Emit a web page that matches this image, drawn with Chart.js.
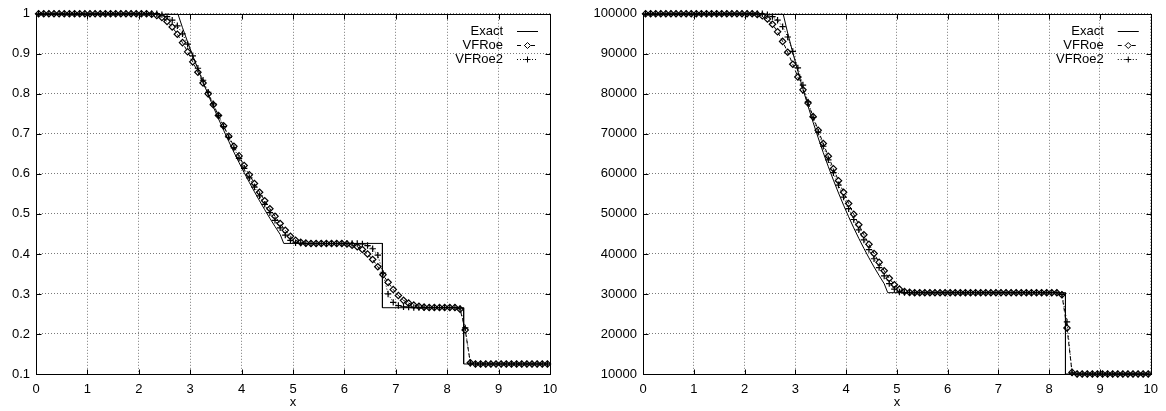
<!DOCTYPE html>
<html>
<head>
<meta charset="utf-8">
<script src="https://cdn.jsdelivr.net/npm/chart.js@4/dist/chart.umd.min.js"></script>
<style>
  body { margin: 0; background: #fff; }
  #wrap { position: relative; width: 1166px; height: 411px; }
  canvas { position: absolute; top: 0; }
  #rho { left: 0; }
  #pres { left: 583px; }
</style>
</head>
<body>
<div id="wrap">
  <canvas id="rho" width="583" height="411"></canvas>
  <canvas id="pres" width="583" height="411"></canvas>
</div>
<script>
// cell centres of the numerical schemes (100 cells on [0,10])
const cellX = [
  0.05, 0.15, 0.25, 0.35, 0.45, 0.55, 0.65, 0.75, 0.85, 0.95,
  1.05, 1.15, 1.25, 1.35, 1.45, 1.55, 1.65, 1.75, 1.85, 1.95,
  2.05, 2.15, 2.25, 2.35, 2.45, 2.55, 2.65, 2.75, 2.85, 2.95,
  3.05, 3.15, 3.25, 3.35, 3.45, 3.55, 3.65, 3.75, 3.85, 3.95,
  4.05, 4.15, 4.25, 4.35, 4.45, 4.55, 4.65, 4.75, 4.85, 4.95,
  5.05, 5.15, 5.25, 5.35, 5.45, 5.55, 5.65, 5.75, 5.85, 5.95,
  6.05, 6.15, 6.25, 6.35, 6.45, 6.55, 6.65, 6.75, 6.85, 6.95,
  7.05, 7.15, 7.25, 7.35, 7.45, 7.55, 7.65, 7.75, 7.85, 7.95,
  8.05, 8.15, 8.25, 8.35, 8.45, 8.55, 8.65, 8.75, 8.85, 8.95,
  9.05, 9.15, 9.25, 9.35, 9.45, 9.55, 9.65, 9.75, 9.85, 9.95
];

// exact solution breakpoints
const exactX = [0, 2.76, 2.85, 2.95, 3.05, 3.15, 3.25, 3.35, 3.45, 3.55, 3.65, 3.75, 3.85, 3.95,
  4.05, 4.15, 4.25, 4.35, 4.45, 4.55, 4.65, 4.75, 4.82, 6.74, 6.74, 8.32, 8.32, 10];
const exactRho = [1, 1, 0.9653, 0.9297, 0.8952, 0.8618, 0.8293, 0.7978, 0.7673, 0.7378, 0.7091, 0.6813,
  0.6544, 0.6284, 0.6033, 0.5789, 0.5553, 0.5325, 0.5105, 0.4891, 0.4686, 0.4488, 0.4263, 0.4263,
  0.2656, 0.2656, 0.125, 0.125];
const exactP = [100000, 100000, 95170, 90290, 85640, 81200, 76950, 72890, 69020, 65320, 61800, 58440,
  55240, 52190, 49290, 46520, 43890, 41390, 39010, 36740, 34600, 32560, 30313, 30313,
  30313, 30313, 10000, 10000];

const rhoVFRoe = [
  1, 1, 1, 1, 1, 1, 1, 1, 1, 1,
  1, 1, 1, 1, 1, 1, 1, 1, 1, 1,
  1, 1, 0.999, 0.996, 0.991, 0.981, 0.967, 0.949, 0.928, 0.905,
  0.880, 0.854, 0.827, 0.800, 0.773, 0.746, 0.720, 0.694, 0.669, 0.645,
  0.621, 0.598, 0.576, 0.554, 0.533, 0.513, 0.494, 0.476, 0.459, 0.444,
  0.434, 0.429, 0.427, 0.426, 0.426, 0.426, 0.426, 0.426, 0.426, 0.426,
  0.425, 0.422, 0.418, 0.411, 0.400, 0.386, 0.368, 0.348, 0.329, 0.311,
  0.296, 0.284, 0.277, 0.272, 0.269, 0.267, 0.266, 0.266, 0.266, 0.266,
  0.266, 0.266, 0.262, 0.210, 0.128, 0.125, 0.125, 0.125, 0.125, 0.125,
  0.125, 0.125, 0.125, 0.125, 0.125, 0.125, 0.125, 0.125, 0.125, 0.125
];
const rhoVFRoe2 = [
  1, 1, 1, 1, 1, 1, 1, 1, 1, 1,
  1, 1, 1, 1, 1, 1, 1, 1, 1, 1,
  1, 1, 1, 1, 0.998, 0.993, 0.984, 0.970, 0.950, 0.924,
  0.895, 0.864, 0.834, 0.804, 0.775, 0.746, 0.718, 0.691, 0.665, 0.639,
  0.614, 0.590, 0.567, 0.545, 0.524, 0.503, 0.484, 0.465, 0.447, 0.434,
  0.428, 0.427, 0.426, 0.426, 0.426, 0.426, 0.426, 0.426, 0.426, 0.426,
  0.426, 0.426, 0.426, 0.425, 0.421, 0.413, 0.397, 0.352, 0.300, 0.279,
  0.271, 0.268, 0.267, 0.266, 0.266, 0.266, 0.266, 0.266, 0.266, 0.266,
  0.266, 0.266, 0.263, 0.215, 0.127, 0.125, 0.125, 0.125, 0.125, 0.125,
  0.125, 0.125, 0.125, 0.125, 0.125, 0.125, 0.125, 0.125, 0.125, 0.125
];
const pVFRoe = [
  100000, 100000, 100000, 100000, 100000, 100000, 100000, 100000, 100000, 100000,
  100000, 100000, 100000, 100000, 100000, 100000, 100000, 100000, 100000, 100000,
  100000, 100000, 99850, 99500, 98700, 97400, 95500, 93100, 90400, 87400,
  84200, 81000, 77700, 74300, 70900, 67600, 64400, 61300, 58300, 55400,
  52600, 49900, 47300, 44800, 42400, 40100, 37900, 35800, 33900, 32300,
  31200, 30600, 30400, 30300, 30300, 30300, 30300, 30300, 30300, 30300,
  30300, 30300, 30300, 30300, 30300, 30300, 30300, 30300, 30300, 30300,
  30300, 30300, 30300, 30300, 30300, 30300, 30300, 30300, 30300, 30300,
  30300, 30300, 29800, 21500, 10400, 10000, 10000, 10000, 10000, 10000,
  10000, 10000, 10000, 10000, 10000, 10000, 10000, 10000, 10000, 10000
];
const pVFRoe2 = [
  100000, 100000, 100000, 100000, 100000, 100000, 100000, 100000, 100000, 100000,
  100000, 100000, 100000, 100000, 100000, 100000, 100000, 100000, 100000, 100000,
  100000, 100000, 100000, 100000, 99800, 99300, 98400, 96800, 94200, 90600,
  86500, 82200, 78000, 74100, 70400, 66900, 63500, 60300, 57200, 54200,
  51300, 48600, 46000, 43500, 41100, 38800, 36600, 34500, 32600, 31200,
  30500, 30350, 30300, 30300, 30300, 30300, 30300, 30300, 30300, 30300,
  30300, 30300, 30300, 30300, 30300, 30300, 30300, 30300, 30300, 30300,
  30300, 30300, 30300, 30300, 30300, 30300, 30300, 30300, 30300, 30300,
  30300, 30300, 29900, 23000, 10300, 10000, 10000, 10000, 10000, 10000,
  10000, 10000, 10000, 10000, 10000, 10000, 10000, 10000, 10000, 10000
];

const FONT = { family: '"Liberation Sans", Arial, Helvetica, sans-serif', size: 13 };

function pts(xs, ys) {
  return xs.map((x, i) => ({ x: x, y: ys[i] }));
}

// frame, inward ticks and the key, drawn like gnuplot does
const gnuplotFrame = {
  id: 'gnuplotFrame',
  afterDraw(chart) {
    const ctx = chart.ctx;
    const a = chart.chartArea;
    const sx = chart.scales.x, sy = chart.scales.y;
    const L = Math.round(a.left) + 0.5, R = Math.round(a.right) + 0.5;
    const T = Math.round(a.top) + 0.5, B = Math.round(a.bottom) + 0.5;
    ctx.save();
    ctx.strokeStyle = '#000';
    ctx.lineWidth = 1;
    ctx.setLineDash([]);
    ctx.strokeRect(L, T, R - L, B - T);
    ctx.beginPath();
    sx.ticks.forEach(t => {
      const px = Math.round(sx.getPixelForValue(t.value)) + 0.5;
      ctx.moveTo(px, B); ctx.lineTo(px, B - 5);
      ctx.moveTo(px, T); ctx.lineTo(px, T + 5);
    });
    sy.ticks.forEach(t => {
      const py = Math.round(sy.getPixelForValue(t.value)) + 0.5;
      ctx.moveTo(L, py); ctx.lineTo(L + 5, py);
      ctx.moveTo(R, py); ctx.lineTo(R - 5, py);
    });
    ctx.stroke();

    // key
    const rows = [17.5, 31.5, 45];
    ctx.font = FONT.size + 'px ' + FONT.family;
    ctx.textAlign = 'right';
    ctx.textBaseline = 'middle';
    chart.data.datasets.forEach((ds, i) => {
      const y = Math.round(a.top + rows[i]) + 0.5;
      ctx.fillStyle = '#000';
      ctx.fillText(ds.label, a.right - 47, y);
      const x0 = a.right - 33, x1 = a.right - 12, cx = (x0 + x1) / 2;
      ctx.setLineDash(ds.borderDash || []);
      ctx.beginPath();
      ctx.moveTo(x0, y); ctx.lineTo(x1, y);
      ctx.stroke();
      ctx.setLineDash([]);
      ctx.beginPath();
      if (ds.pointStyle === 'rectRot') {
        ctx.moveTo(cx, y - 3); ctx.lineTo(cx + 3, y); ctx.lineTo(cx, y + 3); ctx.lineTo(cx - 3, y); ctx.closePath();
        ctx.fillStyle = '#fff';
        ctx.fill();
      } else if (ds.pointStyle === 'cross') {
        ctx.moveTo(cx - 3, y); ctx.lineTo(cx + 3, y);
        ctx.moveTo(cx, y - 3); ctx.lineTo(cx, y + 3);
      }
      ctx.stroke();
    });
    ctx.restore();
  }
};

function makeChart(id, exactY, vf1, vf2, yMin, yMax, yStep, yWidth, padRight, fmt) {
  const ctx = document.getElementById(id).getContext('2d');
  return new Chart(ctx, {
    type: 'line',
    data: {
      datasets: [{
        label: 'Exact',
        data: pts(exactX, exactY),
        borderColor: '#000',
        borderWidth: 1,
        pointRadius: 0,
        tension: 0
      }, {
        label: 'VFRoe',
        data: pts(cellX, vf1),
        borderColor: '#000',
        borderWidth: 1,
        borderDash: [4, 3],
        pointStyle: 'rectRot',
        pointRadius: 3.2,
        pointBorderWidth: 1.2,
        pointBorderColor: '#000',
        pointBackgroundColor: 'rgba(255,255,255,0)',
        clip: false
      }, {
        label: 'VFRoe2',
        data: pts(cellX, vf2),
        borderColor: '#000',
        borderWidth: 1,
        borderDash: [1, 2],
        pointStyle: 'cross',
        pointRadius: 3.2,
        pointBorderWidth: 1.2,
        pointBorderColor: '#000',
        clip: false
      }]
    },
    options: {
      responsive: false,
      devicePixelRatio: 1,
      animation: false,
      layout: { padding: { top: 9, right: padRight, left: 0, bottom: 0 } },
      plugins: { legend: { display: false }, tooltip: { enabled: false } },
      scales: {
        x: {
          type: 'linear',
          min: 0, max: 10,
          ticks: { stepSize: 1, autoSkip: false, maxRotation: 0, color: '#000', font: FONT, padding: 8 },
          grid: { color: '#7a7a7a', drawTicks: false },
          border: { display: false, dash: [1, 2] },
          title: { display: true, text: 'x', color: '#000', font: FONT, padding: { top: 0, bottom: 1 } },
          afterFit(scale) { scale.height = 37; }
        },
        y: {
          min: yMin, max: yMax,
          ticks: { stepSize: yStep, color: '#000', font: FONT, padding: 6, callback: fmt },
          grid: { color: '#7a7a7a', drawTicks: false },
          border: { display: false, dash: [1, 2] },
          afterFit(scale) { scale.width = yWidth; }
        }
      }
    },
    plugins: [gnuplotFrame]
  });
}

makeChart('rho', exactRho, rhoVFRoe, rhoVFRoe2, 0.1, 1, 0.1, 36, 33,
  v => String(Number(v.toFixed(1))));
makeChart('pres', exactP, pVFRoe, pVFRoe2, 10000, 100000, 10000, 60, 11,
  v => String(Math.round(v)));
</script>
</body>
</html>
